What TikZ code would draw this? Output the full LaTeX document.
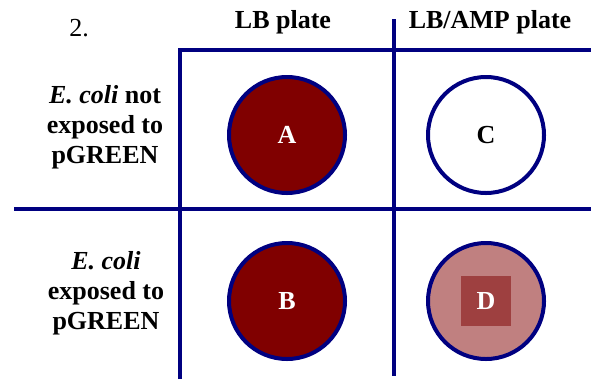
\documentclass[tikz,border=0pt]{standalone}
\usepackage{fontspec}
\setmainfont{Liberation Serif}
\usepackage{tikz}
\usetikzlibrary{positioning}

\definecolor{gridblue}{HTML}{000080}
\definecolor{platered}{HTML}{800000}
\definecolor{platepink}{HTML}{C08080}
\definecolor{colonyred}{HTML}{9E4040}

\begin{document}
\begin{tikzpicture}[x=0.75pt, y=-0.75pt, font=\fontsize{19.5}{22.5}\selectfont]

% Define block styles
\tikzstyle{plate} = [circle, minimum size=87pt, inner sep=0pt, draw=gridblue, line width=3pt, text=white, font=\fontsize{19.5}{22.5}\selectfont\bfseries]
\tikzstyle{gridline} = [draw=gridblue, line width=2.3pt]
\tikzstyle{header} = [anchor=base, inner sep=0pt, font=\fontsize{19.5}{22.5}\selectfont\bfseries]
\tikzstyle{rowlabel} = [align=center, inner sep=0pt, font=\fontsize{19.5}{22.5}\selectfont\bfseries]

\useasboundingbox (0,0) rectangle (591,379);

% Define grid corners
\coordinate (lefttop) at (180,50);
\coordinate (leftbot) at (180,379);
\coordinate (midtop) at (394,19);
\coordinate (midbot) at (394,376);
\coordinate (topright) at (591,50);
\coordinate (rowleft) at (14,209);
\coordinate (rowright) at (591,209);

% Draw grid
\draw [gridline] (leftbot) -- (lefttop) -- (topright);
\draw [gridline] (midtop) -- (midbot);
\draw [gridline] (rowleft) -- (rowright);

% Define headers
\node (num) [anchor=base, inner sep=0pt] at (79,36) {2.};
\node (lbhead) [header] at (283,28) {LB plate};
\node (amphead) [header] at (490,28) {LB/AMP plate};

% Define row labels
\node (notexp) [rowlabel] at (105,127) {\textit{E. coli} not\\exposed to\\pGREEN};
\node (exp) [rowlabel] at (106,293) {\textit{E. coli}\\exposed to\\pGREEN};

% Define plates
\node (plateA) [plate, fill=platered] at (287,135) {A};
\node (plateC) [plate, fill=white, text=black] at (486,135) {C};
\node (plateB) [plate, fill=platered] at (287,301) {B};
\node (plateD) [plate, fill=platepink] at (486,301) {};
\node (colonyD) [rectangle, fill=colonyred, minimum size=37.5pt, inner sep=0pt, text=white, font=\fontsize{19.5}{22.5}\selectfont\bfseries] at (plateD.center) {D};

\end{tikzpicture}
\end{document}
